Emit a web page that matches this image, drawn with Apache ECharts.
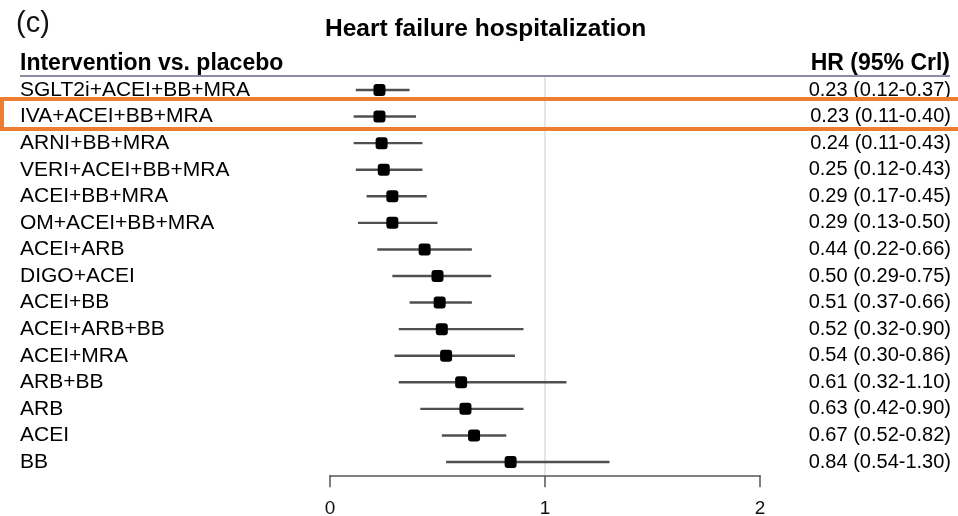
<!DOCTYPE html>
<html><head><meta charset="utf-8">
<script src="https://cdn.jsdelivr.net/npm/echarts@6/dist/echarts.min.js"></script>
<style>html,body{margin:0;padding:0;background:#fff}#c{width:958px;height:516px}</style>
</head><body><div id="c"></div>
<script>
const categories = ["SGLT2i+ACEI+BB+MRA","IVA+ACEI+BB+MRA","ARNI+BB+MRA","VERI+ACEI+BB+MRA","ACEI+BB+MRA","OM+ACEI+BB+MRA","ACEI+ARB","DIGO+ACEI","ACEI+BB","ACEI+ARB+BB","ACEI+MRA","ARB+BB","ARB","ACEI","BB"];
const hr = [0.23,0.23,0.24,0.25,0.29,0.29,0.44,0.50,0.51,0.52,0.54,0.61,0.63,0.67,0.84];
const lo = [0.12,0.11,0.11,0.12,0.17,0.13,0.22,0.29,0.37,0.32,0.30,0.32,0.42,0.52,0.54];
const hi = [0.37,0.40,0.43,0.43,0.45,0.50,0.66,0.75,0.66,0.90,0.86,1.10,0.90,0.82,1.30];
const xTicks = [0,1,2];

const hrLabels = hr.map((v,i)=>v.toFixed(2)+" ("+lo[i].toFixed(2)+"-"+hi[i].toFixed(2)+")");
const font = "'Liberation Sans', Arial, sans-serif";
const chart = echarts.init(document.getElementById('c'));
chart.setOption({
  animation:false,
  backgroundColor:'#fff',
  title:[
    {text:'(c)', left:11, top:4, textStyle:{fontSize:29, fontWeight:'normal', color:'#111', fontFamily:font}},
    {text:'Heart failure hospitalization', left:320, top:12, textStyle:{fontSize:24.5, fontWeight:'bold', color:'#000', fontFamily:font}}
  ],
  grid:{left:330, right:198, top:76.7, bottom:40.7, containLabel:false, outerBoundsMode:'none'},
  xAxis:{type:'value', min:xTicks[0], max:xTicks[xTicks.length-1], interval:1,
    splitLine:{show:false},
    axisLine:{show:true, lineStyle:{color:'#555', width:1.5}},
    axisTick:{show:true, length:12, lineStyle:{color:'#555', width:1.5}},
    axisLabel:{fontSize:19, color:'#111', margin:24, fontFamily:font}
  },
  yAxis:[
    {type:'category', data:categories, inverse:true,
     axisLine:{show:false}, axisTick:{show:false}, splitLine:{show:false},
     axisLabel:{interval:0, align:'left', margin:310, fontSize:21, color:'#000', fontFamily:font}},
    {type:'category', data:categories, inverse:true, position:'right',
     axisLine:{show:false}, axisTick:{show:false}, splitLine:{show:false},
     axisLabel:{interval:0, align:'right', margin:191, fontSize:20, color:'#000', fontFamily:font,
       formatter:(v,i)=>hrLabels[i]}}
  ],
  series:[
    {type:'custom', yAxisIndex:0,
     data:categories.map((c,i)=>[lo[i],hi[i],i]),
     encode:{x:[0,1], y:2},
     renderItem:(params, api)=>{
       const a = api.coord([api.value(0), api.value(2)]);
       const b = api.coord([api.value(1), api.value(2)]);
       return {type:'line', shape:{x1:a[0], y1:a[1], x2:b[0], y2:b[1]},
         style:{stroke:'#505050', lineWidth:2.4}};
     },
     z:3},
    {type:'scatter', yAxisIndex:0,
     data:hr.map((v,i)=>[v,i]),
     symbol:'roundRect', symbolSize:12,
     itemStyle:{color:'#000', opacity:1},
     z:4,
     markLine:{silent:true, symbol:'none', label:{show:false},
       lineStyle:{color:'#e4e4ec', width:2, type:'solid', opacity:1},
       data:[{xAxis:1}], z:1}}
  ],
  graphic:[
    {type:'line', shape:{x1:20, y1:76, x2:950, y2:76}, style:{stroke:'#8c8ca4', lineWidth:2}, z:10},
    {type:'text', x:20, y:64, style:{text:'Intervention vs. placebo', font:"bold 23px "+font, fill:'#000', textVerticalAlign:'middle'}},
    {type:'text', x:950, y:64, style:{text:'HR (95% Crl)', font:"bold 23px "+font, fill:'#000', textAlign:'right', textVerticalAlign:'middle'}},
    {type:'rect', shape:{x:2, y:99, width:970, height:30}, style:{fill:'none', stroke:'#ED7D31', lineWidth:4}, z:20}
  ]
});
</script></body></html>
